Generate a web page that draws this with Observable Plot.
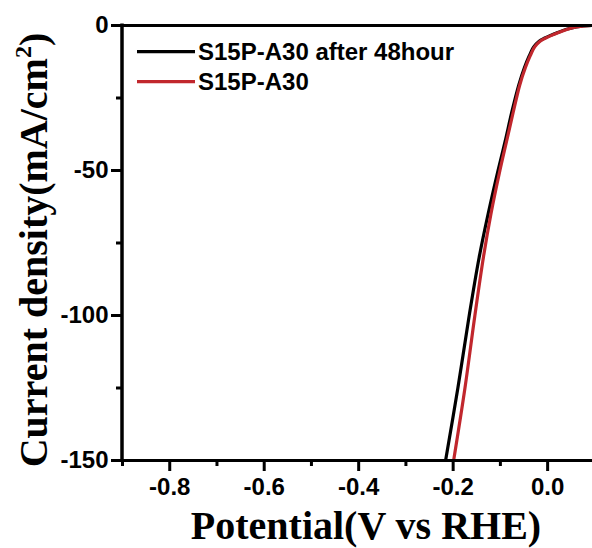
<!DOCTYPE html>
<html>
<head>
<meta charset="utf-8">
<script src="https://cdn.jsdelivr.net/npm/d3@7"></script>
<script src="https://cdn.jsdelivr.net/npm/@observablehq/plot@0.6"></script>
<style>
  html, body { margin: 0; padding: 0; background: #fff; }
  #chart { width: 592px; height: 548px; }
</style>
</head>
<body>
<div id="chart"></div>
<script>
// Series labels
const seriesNames = ["S15P-A30 after 48hour", "S15P-A30"];
const seriesColors = ["#000000", "#c1272d"];

// S15P-A30 after 48hour (black)
const afterV = [-0.216, -0.19, -0.166, -0.145, -0.126, -0.105, -0.09, -0.076, -0.061, -0.049, -0.039, -0.029, -0.018, -0.007, 0.005, 0.02, 0.04, 0.06, 0.075, 0.095];
const afterJ = [-150, -125, -100, -80, -65, -50, -40, -30, -20.5, -14.5, -10.5, -7.3, -5.4, -4.4, -3.5, -2.5, -1.3, -0.5, -0.1, 0];

// S15P-A30 (red)
const freshV = [-0.199, -0.175, -0.154, -0.136, -0.12, -0.101, -0.087, -0.073, -0.059, -0.047, -0.037, -0.027, -0.016, -0.005, 0.007, 0.022, 0.042, 0.061, 0.076, 0.095];
const freshJ = [-150, -125, -100, -80, -65, -50, -40, -30, -20.5, -14.5, -10.5, -7.3, -5.4, -4.4, -3.5, -2.5, -1.3, -0.5, -0.1, 0];

// Axes
const xDomain = [-0.9, 0.095];
const yDomain = [-150, 0];
const xMajor = [-0.8, -0.6, -0.4, -0.2, 0.0];
const xMinor = [-0.9, -0.7, -0.5, -0.3, -0.1];
const yMajor = [0, -50, -100, -150];
const yMinor = [-25, -75, -125];
const xTitle = "Potential(V vs RHE)";
const yTitleMain = "Current density(mA/cm";
const yTitleSup = "2";

const afterData = afterV.map((v, i) => ({V: v, J: afterJ[i]}));
const freshData = freshV.map((v, i) => ({V: v, J: freshJ[i]}));

const tickFont = {fontSize: 24, fontWeight: "bold", fontFamily: "'Liberation Sans', Arial, sans-serif"};

const plot = Plot.plot({
  width: 592,
  height: 548,
  marginLeft: 122,
  marginRight: 0,
  marginTop: 25,
  marginBottom: 88,
  style: {background: "#fff", color: "#000", overflow: "visible"},
  x: {domain: xDomain, label: null},
  y: {domain: yDomain, label: null},
  marks: [
    Plot.line(afterData, {x: "V", y: "J", stroke: seriesColors[0], strokeWidth: 3.2, curve: "catmull-rom", clip: true}),
    Plot.line(freshData, {x: "V", y: "J", stroke: seriesColors[1], strokeWidth: 3.2, curve: "catmull-rom", clip: true}),
    Plot.ruleY([yDomain[0]], {x1: xDomain[0], x2: xDomain[1], stroke: "#000", strokeWidth: 3}),
    Plot.ruleY([yDomain[1]], {x1: xDomain[0], x2: xDomain[1], stroke: "#000", strokeWidth: 3}),
    Plot.axisX(xMajor, {tickSize: 11, strokeWidth: 3, tickPadding: 6, tickFormat: d => d.toFixed(1), ...tickFont}),
    Plot.axisX(xMinor, {tickSize: 6, strokeWidth: 3, tickFormat: () => ""}),
    Plot.axisY(yMajor, {tickSize: 11, strokeWidth: 3, tickPadding: 3, tickFormat: d => String(d), ...tickFont}),
    Plot.axisY(yMinor, {tickSize: 6, strokeWidth: 3, tickFormat: () => ""})
  ]
});

document.getElementById("chart").appendChild(plot);

const svg = d3.select(plot);
const sx = plot.scale("x");
const sy = plot.scale("y");
const lx = sx.apply(xDomain[0]);

// Left axis line (through the library's scales)
svg.append("line")
  .attr("x1", lx).attr("x2", lx)
  .attr("y1", sy.apply(yDomain[0]) + 1.5).attr("y2", sy.apply(yDomain[1]) - 1.5)
  .attr("stroke", "#000").attr("stroke-width", 3.5);

// Legend
const legend = svg.append("g");
seriesNames.forEach((name, i) => {
  const y = 51.7 + i * 30;
  legend.append("line")
    .attr("x1", 137).attr("x2", 195).attr("y1", y).attr("y2", y)
    .attr("stroke", seriesColors[i]).attr("stroke-width", 3.2);
  legend.append("text")
    .attr("x", 198).attr("y", y + 8.5)
    .attr("text-anchor", "start")
    .attr("font-family", "'Liberation Sans', Arial, sans-serif")
    .attr("font-weight", "bold").attr("font-size", 24)
    .attr("fill", "#000")
    .text(name);
});

// X title
svg.append("text")
  .attr("x", 366).attr("y", 539)
  .attr("text-anchor", "middle")
  .attr("font-family", "'Liberation Serif', 'Times New Roman', serif")
  .attr("font-weight", "bold").attr("font-size", 40)
  .attr("fill", "#000")
  .text(xTitle);

// Y title
const yt = svg.append("text")
  .attr("transform", "translate(47,250) rotate(-90)")
  .attr("text-anchor", "middle")
  .attr("font-family", "'Liberation Serif', 'Times New Roman', serif")
  .attr("font-weight", "bold").attr("font-size", 40)
  .attr("fill", "#000");
yt.append("tspan").text(yTitleMain);
yt.append("tspan").attr("dy", -16).attr("font-size", 24).text(yTitleSup);
yt.append("tspan").attr("dy", 16).text(")");
</script>
</body>
</html>
